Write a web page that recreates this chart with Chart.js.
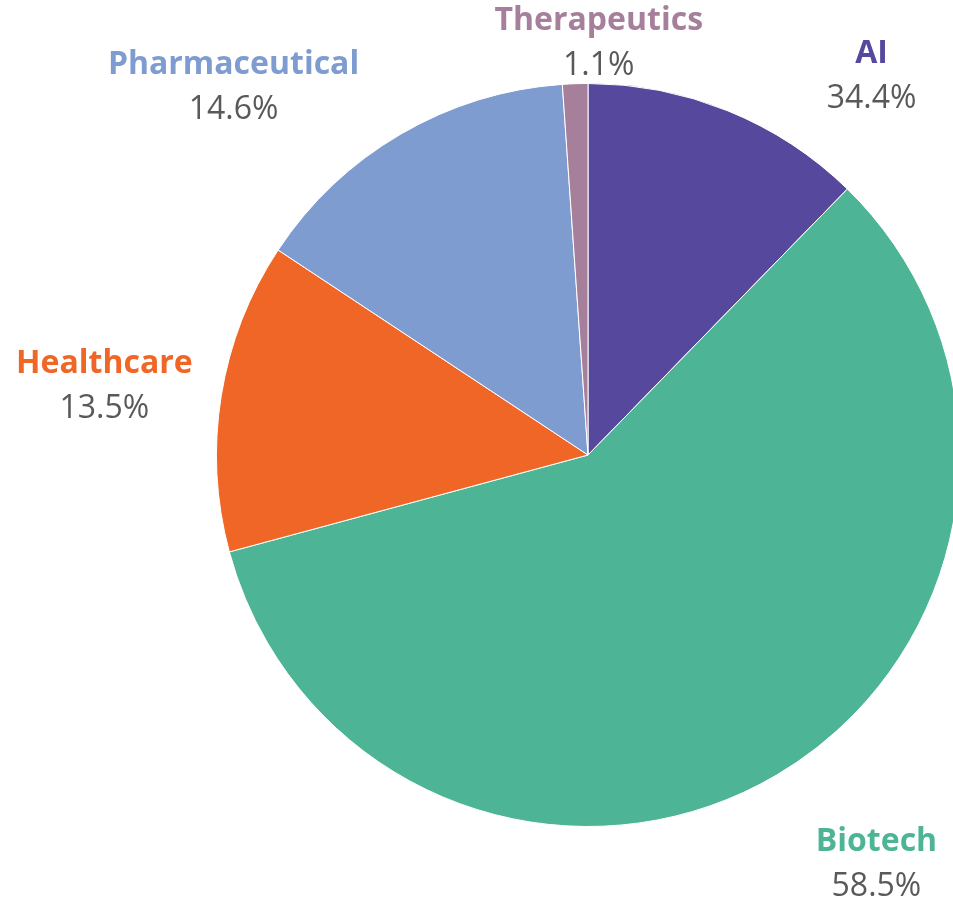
<!DOCTYPE html>
<html>
<head>
<meta charset="utf-8">
<script src="https://cdn.jsdelivr.net/npm/chart.js@4/dist/chart.umd.min.js"></script>
<style>
  html, body { margin: 0; padding: 0; background: #ffffff; overflow: hidden; }
  #wrap { position: relative; width: 960px; height: 900px; }
</style>
</head>
<body>
<div id="wrap"><canvas id="c" width="960" height="900"></canvas></div>
<script>
// ---- data ----
const categories = ["AI", "Biotech", "Healthcare", "Pharmaceutical", "Therapeutics"];
const sliceValues = [12.3, 58.5, 13.5, 14.6, 1.1];          // slice sizes as drawn
const shownPercents = [34.4, 58.5, 13.5, 14.6, 1.1];        // percentages printed in labels

// ---- style ----
const sliceColors = ["#56489d", "#4db596", "#ef6627", "#7f9cd1", "#a6809b"];
const percentColor = "#595959";
// label block placement, polar relative to pie centre: angle (deg, clockwise from top), distance (× radius)
const labelPlacement = [
  { angle: 36.8, dist: 1.274 },
  { angle: 144.8, dist: 1.347 },
  { angle: 278.1, dist: 1.315 },
  { angle: 316.1, dist: 1.376 },
  { angle: 1.5, dist: 1.110 }
];

const outerLabels = {
  id: 'outerLabels',
  afterDatasetsDraw(chart) {
    const ctx = chart.ctx;
    const meta = chart.getDatasetMeta(0);
    meta.data.forEach((arc, i) => {
      const { x, y, outerRadius } = arc.getProps(['x', 'y', 'outerRadius'], true);
      const p = labelPlacement[i];
      const a = p.angle * Math.PI / 180;
      const cx = x + Math.sin(a) * outerRadius * p.dist;
      const cy = y - Math.cos(a) * outerRadius * p.dist;
      ctx.save();
      ctx.textAlign = 'center';
      ctx.textBaseline = 'middle';
      ctx.font = 'bold 32px "Open Sans"';
      ctx.fillStyle = sliceColors[i];
      ctx.fillText(categories[i], cx, cy - 22);
      ctx.font = '32px "Open Sans"';
      ctx.fillStyle = percentColor;
      ctx.fillText(shownPercents[i].toFixed(1) + '%', cx, cy + 23);
      ctx.restore();
    });
  }
};

new Chart(document.getElementById('c'), {
  type: 'pie',
  data: {
    labels: categories,
    datasets: [{
      data: sliceValues,
      backgroundColor: sliceColors,
      borderColor: '#ffffff',
      borderWidth: 1
    }]
  },
  options: {
    responsive: false,
    animation: false,
    layout: { padding: { left: 216, right: 0, top: 83, bottom: 73 } },
    plugins: {
      legend: { display: false },
      tooltip: { enabled: false }
    }
  },
  plugins: [outerLabels]
});
</script>
</body>
</html>
